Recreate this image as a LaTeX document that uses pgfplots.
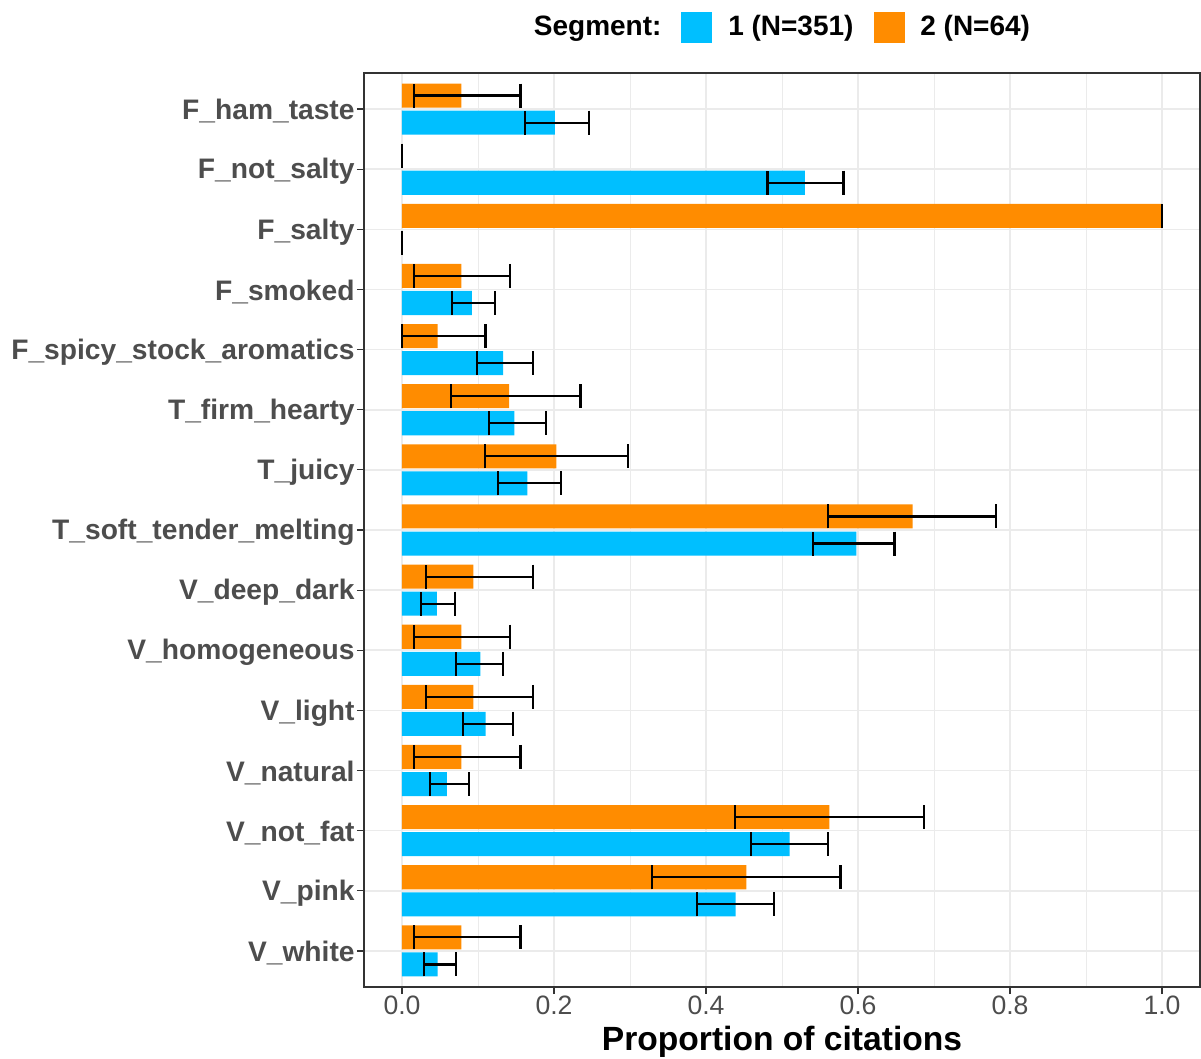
\documentclass[border=0pt]{standalone}
\usepackage{pgfplots}
\pgfplotsset{compat=1.18}
\usepackage{pgfplotstable}
\usepackage{fontspec}
\setmainfont{Liberation Sans}
\definecolor{segA}{HTML}{00BFFF}
\definecolor{segB}{HTML}{FF8C00}
\definecolor{gridc}{HTML}{EBEBEB}
\definecolor{grey20}{HTML}{333333}
\definecolor{grey30}{HTML}{4D4D4D}

% Segment 2 (orange), positions k-0.225
\pgfplotstableread{
pos v lo hi
0.775 0.078 0.016 0.156
1.775 0 -0.0005 0.0005
2.775 1 0.9995 1.0005
3.775 0.078 0.016 0.142
4.775 0.047 0.000 0.110
5.775 0.141 0.064 0.235
6.775 0.203 0.109 0.297
7.775 0.672 0.561 0.782
8.775 0.094 0.032 0.172
9.775 0.078 0.016 0.142
10.775 0.094 0.032 0.172
11.775 0.078 0.016 0.156
12.775 0.5625 0.438 0.687
13.775 0.453 0.329 0.577
14.775 0.078 0.016 0.156
}\segtwo

% Segment 1 (blue), positions k+0.225
\pgfplotstableread{
pos v lo hi
1.225 0.201 0.162 0.246
2.225 0.530 0.481 0.581
3.225 0 -0.0005 0.0005
4.225 0.092 0.066 0.122
5.225 0.133 0.099 0.172
6.225 0.148 0.114 0.189
7.225 0.165 0.126 0.209
8.225 0.598 0.541 0.648
9.225 0.046 0.025 0.070
10.225 0.103 0.071 0.133
11.225 0.110 0.080 0.146
12.225 0.059 0.037 0.088
13.225 0.510 0.459 0.561
14.225 0.439 0.388 0.489
15.225 0.047 0.029 0.071
}\segone

\begin{document}
\begin{tikzpicture}
\path[use as bounding box] (-182pt,-36pt) rectangle (418.5pt,493.5pt);
\begin{axis}[
  at={(0,0)}, anchor=south west,
  scale only axis, width=418pt, height=457pt,
  xmin=-0.05, xmax=1.05, ymin=0.4, ymax=15.6, y dir=reverse,
  xtick={0,0.2,0.4,0.6,0.8,1},
  minor xtick={0.1,0.3,0.5,0.7,0.9},
  ytick={1,...,15},
  yticklabels={F\_ham\_taste,F\_not\_salty,F\_salty,F\_smoked,F\_spicy\_stock\_aromatics,T\_firm\_hearty,T\_juicy,T\_soft\_tender\_melting,V\_deep\_dark,V\_homogeneous,V\_light,V\_natural,V\_not\_fat,V\_pink,V\_white},
  tick pos=left, tick align=outside,
  major tick length=3.5pt, minor tick length=0pt,
  tick style={grey20, line width=0.6pt},
  xmajorgrids, xminorgrids, ymajorgrids,
  major grid style={gridc, line width=0.8pt},
  minor grid style={gridc, line width=0.4pt},
  axis line style={grey20, line width=0.6pt},
  yticklabel style={font=\bfseries\fontsize{14.1}{16}\selectfont, text=grey30, inner sep=1pt, yshift=-1.2pt},
  xticklabel style={font=\fontsize{13.3}{15}\selectfont, text=grey30, inner sep=1pt,
    /pgf/number format/.cd, fixed, fixed zerofill, precision=1, assume math mode=true},
  xlabel={Proportion of citations},
  xlabel style={font=\bfseries\fontsize{16.8}{19}\selectfont, at={(axis description cs:0.5,0)}, anchor=base, yshift=-31.5pt},
  legend columns=-1,
  legend style={at={(axis description cs:0.5,1)}, anchor=center, yshift=23pt, xshift=-3pt,
    draw=none, fill=none, inner sep=0pt,
    font=\bfseries\fontsize{14}{16}\selectfont,
    /tikz/every odd column/.append style={column sep=6pt},
    /tikz/every even column/.append style={column sep=8pt}},
]
\addplot[xbar, bar width=0.4, bar shift=0pt, fill=segB, draw=none, forget plot,
  error bars/.cd, x dir=both, x explicit, error mark=|,
  error bar style={black, line width=1.1pt},
  error mark options={black, line width=1.1pt, mark size=6pt}]
  table[x=v, y=pos, x error plus expr=\thisrow{hi}-\thisrow{v}, x error minus expr=\thisrow{v}-\thisrow{lo}] {\segtwo};
\addplot[xbar, bar width=0.4, bar shift=0pt, fill=segA, draw=none, forget plot,
  error bars/.cd, x dir=both, x explicit, error mark=|,
  error bar style={black, line width=1.1pt},
  error mark options={black, line width=1.1pt, mark size=6pt}]
  table[x=v, y=pos, x error plus expr=\thisrow{hi}-\thisrow{v}, x error minus expr=\thisrow{v}-\thisrow{lo}] {\segone};
\addlegendimage{empty legend}\addlegendentry{Segment:}
\addlegendimage{legend image code/.code={\fill[segA] (0pt,-7.5pt) rectangle (15pt,7.5pt);}}\addlegendentry{1 (N=351)}
\addlegendimage{legend image code/.code={\fill[segB] (0pt,-7.5pt) rectangle (15pt,7.5pt);}}\addlegendentry{2 (N=64)}
\end{axis}
\end{tikzpicture}
\end{document}
